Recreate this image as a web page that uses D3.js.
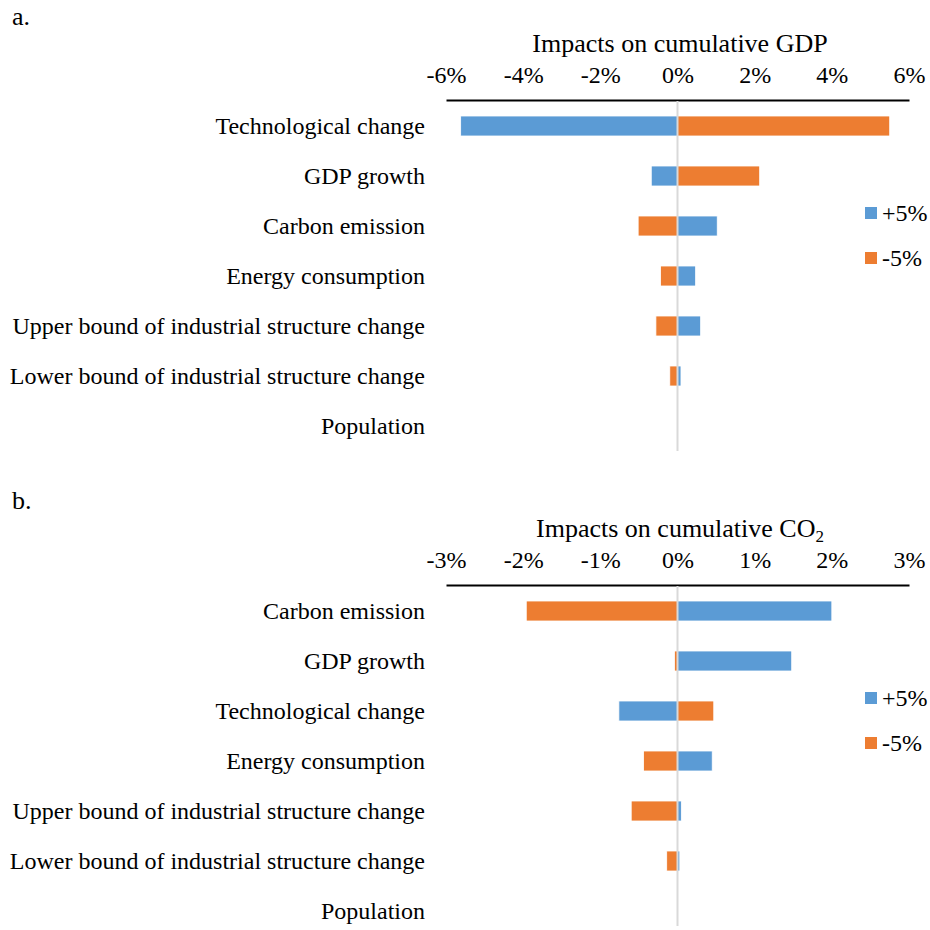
<!DOCTYPE html>
<html>
<head>
<meta charset="utf-8">
<script src="https://cdn.jsdelivr.net/npm/d3@7"></script>
</head>
<body style="margin:0;background:#fff">
<svg id="chart" width="930" height="930"></svg>
<script>
// Panel a: impacts on cumulative GDP (%), +5% / -5% parameter changes
const gdpCategories = [
  "Technological change",
  "GDP growth",
  "Carbon emission",
  "Energy consumption",
  "Upper bound of industrial structure change",
  "Lower bound of industrial structure change",
  "Population"
];
const gdpPlus5 = [-5.62, -0.68, 1.03, 0.47, 0.60, 0.09, 0];
const gdpMinus5 = [5.50, 2.13, -1.02, -0.44, -0.56, -0.20, 0];
const gdpTicks = [-6, -4, -2, 0, 2, 4, 6];

// Panel b: impacts on cumulative CO2 (%)
const co2Categories = [
  "Carbon emission",
  "GDP growth",
  "Technological change",
  "Energy consumption",
  "Upper bound of industrial structure change",
  "Lower bound of industrial structure change",
  "Population"
];
const co2Plus5 = [2.00, 1.48, -0.76, 0.45, 0.05, 0.03, 0];
const co2Minus5 = [-1.96, -0.04, 0.47, -0.44, -0.60, -0.14, 0];
const co2Ticks = [-3, -2, -1, 0, 1, 2, 3];

const seriesNames = ["+5%", "-5%"];
const colors = { "+5%": "#5B9BD5", "-5%": "#ED7D31" };
const FONT = "'Liberation Serif', 'Times New Roman', Times, serif";

const svg = d3.select("#chart");

function drawPanel(opt) {
  const g = svg.append("g").attr("transform", `translate(0,${opt.top})`);
  const x = d3.scaleLinear().domain([opt.ticks[0], opt.ticks[opt.ticks.length - 1]]).range([446, 909]);
  const y = d3.scaleBand().domain(opt.categories).range([101, 451]).paddingInner(0.6).paddingOuter(0.3);

  // panel letter
  g.append("text").attr("x", 12).attr("y", opt.letterY)
    .style("font-family", FONT).style("font-size", "26px").text(opt.letter);

  // axis title
  const title = g.append("text").attr("x", 680).attr("y", 52).attr("text-anchor", "middle")
    .style("font-family", FONT).style("font-size", "26px");
  title.append("tspan").text(opt.title);
  if (opt.sub) {
    title.append("tspan").style("font-size", "17px").attr("dy", 5).text(opt.sub);
  }

  // top axis
  const axis = d3.axisTop(x).tickValues(opt.ticks).tickSize(0).tickPadding(17)
    .tickFormat(d => d + "%");
  const ax = g.append("g").attr("transform", "translate(0,100)").call(axis);
  ax.select(".domain").attr("stroke", "#000").attr("stroke-width", 2);
  ax.selectAll("text").style("font-family", FONT).style("font-size", "24px").attr("fill", "#000");

  // bars
  const rows = opt.categories.map((c, i) => ({ c, plus: opt.plus[i], minus: opt.minus[i] }));
  seriesNames.forEach(s => {
    const val = d => (s === "+5%" ? d.plus : d.minus);
    g.append("g").selectAll("rect").data(rows).join("rect")
      .attr("x", d => x(Math.min(0, val(d))))
      .attr("width", d => Math.abs(x(val(d)) - x(0)))
      .attr("y", d => y(d.c))
      .attr("height", y.bandwidth())
      .attr("fill", colors[s])
      .attr("stroke", "#fff")
      .attr("stroke-width", 0.8);
  });

  // zero line
  g.append("line").attr("x1", x(0)).attr("x2", x(0)).attr("y1", 101).attr("y2", opt.zeroEnd)
    .attr("stroke", "#D9D9D9").attr("stroke-width", 2);

  // category labels
  g.append("g").selectAll("text").data(opt.categories).join("text")
    .attr("x", 425).attr("y", d => y(d) + y.bandwidth() / 2 + 8)
    .attr("text-anchor", "end")
    .style("font-family", FONT).style("font-size", "24px").text(d => d);

  // legend
  const lg = g.append("g");
  seriesNames.forEach((s, i) => {
    lg.append("rect").attr("x", 865).attr("y", 207 + i * 45).attr("width", 12).attr("height", 12)
      .attr("fill", colors[s]);
    lg.append("text").attr("x", 882).attr("y", 221 + i * 45)
      .style("font-family", FONT).style("font-size", "24px").text(s);
  });
}

drawPanel({ top: 0, letter: "a.", letterY: 25, title: "Impacts on cumulative GDP", categories: gdpCategories,
  plus: gdpPlus5, minus: gdpMinus5, ticks: gdpTicks, zeroEnd: 451 });
drawPanel({ top: 485, letter: "b.", letterY: 24, title: "Impacts on cumulative CO", sub: "2", categories: co2Categories,
  plus: co2Plus5, minus: co2Minus5, ticks: co2Ticks, zeroEnd: 441 });
</script>
</body>
</html>
